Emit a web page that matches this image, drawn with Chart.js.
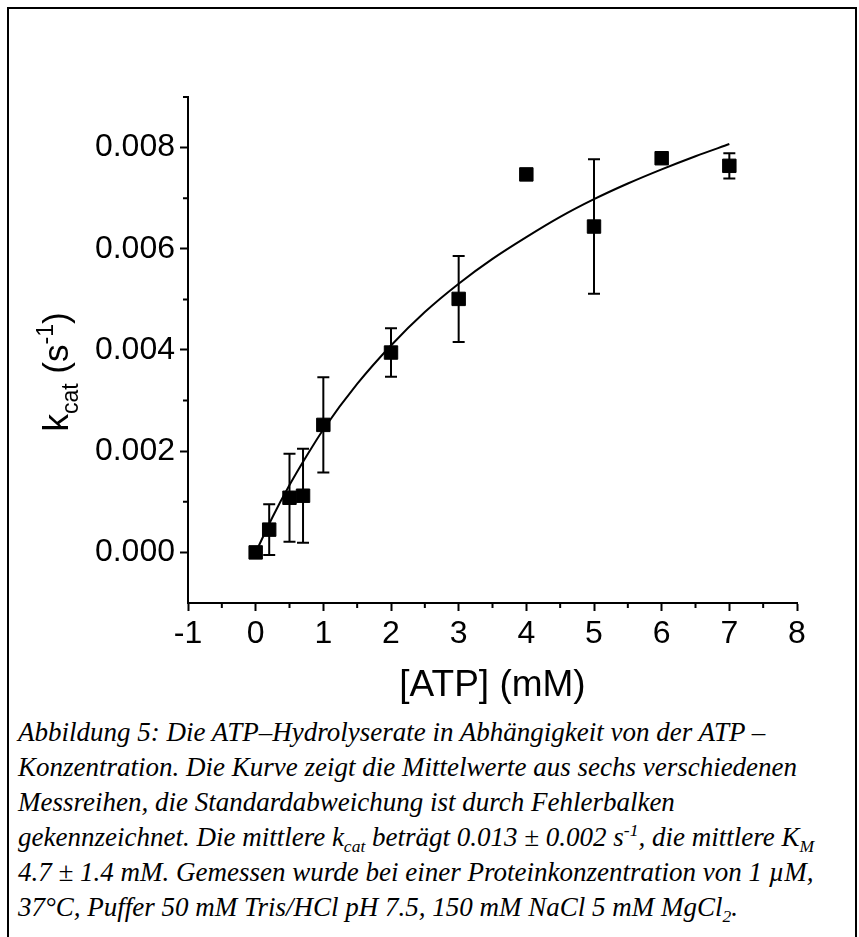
<!DOCTYPE html>
<html>
<head>
<meta charset="utf-8">
<script src="https://cdn.jsdelivr.net/npm/chart.js@4.4.0/dist/chart.umd.min.js"></script>
<style>
    html, body { margin: 0; padding: 0; background: #fff; }
    #page { position: relative; width: 859px; height: 937px; overflow: hidden; }
    #frame {
        position: absolute; left: 7px; top: 7px; width: 850px; height: 960px;
        border: 2px solid #000; box-sizing: border-box;
    }
    #plot { position: absolute; left: 0; top: 0; }
    #caption {
        position: absolute; left: 18px; top: 715px; white-space: nowrap;
        font-family: "Liberation Serif", "Times New Roman", serif;
        font-style: italic; font-size: 27px; line-height: 35px; color: #000;
    }
    #caption sub, #caption sup { font-size: 65%; line-height: 0; }
</style>
</head>
<body>
<div id="page">
    <div id="frame"></div>
    <canvas id="plot" width="859" height="713"></canvas>
    <div id="caption">
        Abbildung 5: Die ATP–Hydrolyserate in Abhängigkeit von der ATP –<br>
        Konzentration. Die Kurve zeigt die Mittelwerte aus sechs verschiedenen<br>
        Messreihen, die Standardabweichung ist durch Fehlerbalken<br>
        gekennzeichnet. Die mittlere k<sub>cat</sub> beträgt 0.013 ± 0.002 s<sup>-1</sup>, die mittlere K<sub>M</sub><br>
        4.7 ± 1.4 mM. Gemessen wurde bei einer Proteinkonzentration von 1 µM,<br>
        37°C, Puffer 50 mM Tris/HCl pH 7.5, 150 mM NaCl 5 mM MgCl<sub>2</sub>.
    </div>
</div>
<script>
// measured points (mean of six series) and their standard deviation
const atp = [0, 0.2, 0.5, 0.7, 1, 2, 3, 4, 5, 6, 7];
const kcat = [0.0000, 0.00045, 0.00108, 0.00112, 0.00252, 0.00395, 0.00501, 0.00747, 0.00644, 0.00779, 0.00764];
const kcatErr = [0, 0.0005, 0.00087, 0.00093, 0.00094, 0.00048, 0.00085, 0, 0.00133, 0, 0.00025];

// fitted curve
const fitAtp = [0, 0.25, 0.5, 0.75, 1, 1.5, 2, 2.5, 3, 3.5, 4, 4.5, 5, 5.5, 6, 6.5, 7];
const fitKcat = [0, 0.00070, 0.00133, 0.00190, 0.00243, 0.00333, 0.00409, 0.00475, 0.00531,
    0.00580, 0.00623, 0.00663, 0.00698, 0.00729, 0.00757, 0.00783, 0.00807];

const xTicks = [-1, 0, 1, 2, 3, 4, 5, 6, 7, 8];
const xMinor = [-0.5, 0.5, 1.5, 2.5, 3.5, 4.5, 5.5, 6.5, 7.5];
const yTicks = [0, 0.002, 0.004, 0.006, 0.008];
const yMinor = [0.001, 0.003, 0.005, 0.007, 0.009];

const axisFont = { family: "'Liberation Sans', Arial, sans-serif", size: 32 };

const errorBars = {
    id: "errorBars",
    beforeDatasetsDraw(chart) {
        const { ctx, scales: { x, y } } = chart;
        ctx.save();
        ctx.strokeStyle = "#000";
        ctx.lineWidth = 2;
        atp.forEach((v, i) => {
            if (!kcatErr[i]) return;
            const px = x.getPixelForValue(v);
            const top = y.getPixelForValue(kcat[i] + kcatErr[i]);
            const bot = y.getPixelForValue(kcat[i] - kcatErr[i]);
            ctx.beginPath();
            ctx.moveTo(px, top); ctx.lineTo(px, bot);
            ctx.moveTo(px - 6, top); ctx.lineTo(px + 6, top);
            ctx.moveTo(px - 6, bot); ctx.lineTo(px + 6, bot);
            ctx.stroke();
        });
        ctx.restore();
    }
};

const minorTicks = {
    id: "minorTicks",
    afterDraw(chart) {
        const { ctx, scales: { x, y } } = chart;
        ctx.save();
        ctx.strokeStyle = "#000";
        ctx.lineWidth = 2;
        ctx.beginPath();
        xMinor.forEach(v => {
            const px = x.getPixelForValue(v);
            ctx.moveTo(px, y.bottom); ctx.lineTo(px, y.bottom + 5);
        });
        yMinor.forEach(v => {
            const py = y.getPixelForValue(v);
            ctx.moveTo(x.left, py); ctx.lineTo(x.left - 5, py);
        });
        ctx.stroke();
        ctx.restore();
    }
};

// k_cat (s^-1) with sub- and superscript, rotated
const yTitle = {
    id: "yTitle",
    afterDraw(chart) {
        const { ctx } = chart;
        const F = 35, f = 23;
        const big = F + "px 'Liberation Sans', Arial, sans-serif";
        const small = f + "px 'Liberation Sans', Arial, sans-serif";
        const parts = [
            { t: "k", font: big, dy: 0 },
            { t: "cat", font: small, dy: 10 },
            { t: " (s", font: big, dy: 0 },
            { t: "-1", font: small, dy: -15 },
            { t: ")", font: big, dy: 0 }
        ];
        let total = 0;
        parts.forEach(p => { ctx.font = p.font; p.w = ctx.measureText(p.t).width; total += p.w; });
        ctx.save();
        ctx.translate(68, 372);
        ctx.rotate(-Math.PI / 2);
        ctx.fillStyle = "#000";
        ctx.textBaseline = "alphabetic";
        let cx = -total / 2;
        parts.forEach(p => {
            ctx.font = p.font;
            ctx.fillText(p.t, cx, p.dy);
            cx += p.w;
        });
        ctx.restore();
    }
};

new Chart(document.getElementById("plot"), {
    type: "scatter",
    data: {
        datasets: [
            {
                type: "line",
                data: fitAtp.map((v, i) => ({ x: v, y: fitKcat[i] })),
                borderColor: "#000",
                borderWidth: 2,
                pointRadius: 0,
                cubicInterpolationMode: "monotone",
                fill: false
            },
            {
                data: atp.map((v, i) => ({ x: v, y: kcat[i] })),
                pointStyle: "rect",
                pointRadius: 9.5,
                backgroundColor: "#000",
                borderColor: "#000",
                borderWidth: 1
            }
        ]
    },
    options: {
        responsive: false,
        animation: false,
        devicePixelRatio: 1,
        layout: { padding: { top: 97, right: 62, bottom: 0, left: 0 } },
        plugins: { legend: { display: false }, tooltip: { enabled: false } },
        scales: {
            x: {
                type: "linear",
                min: -1,
                max: 8,
                afterBuildTicks: s => { s.ticks = xTicks.map(v => ({ value: v })); },
                afterFit: s => { s.height = 110; },
                ticks: { font: axisFont, color: "#000", padding: 4, callback: v => String(v) },
                grid: { drawOnChartArea: false, drawTicks: true, tickLength: 8, tickColor: "#000", tickWidth: 2 },
                border: { color: "#000", width: 2 },
                title: {
                    display: true,
                    text: "[ATP] (mM)",
                    color: "#000",
                    font: { family: "'Liberation Sans', Arial, sans-serif", size: 37 },
                    padding: { top: 0, bottom: 5 }
                }
            },
            y: {
                type: "linear",
                min: -0.001,
                max: 0.009,
                afterBuildTicks: s => { s.ticks = yTicks.map(v => ({ value: v })); },
                afterFit: s => { s.width = 188; },
                ticks: { font: axisFont, color: "#000", padding: 5, callback: v => v.toFixed(3) },
                grid: { drawOnChartArea: false, drawTicks: true, tickLength: 8, tickColor: "#000", tickWidth: 2 },
                border: { color: "#000", width: 2 }
            }
        }
    },
    plugins: [errorBars, minorTicks, yTitle]
});
</script>
</body>
</html>
